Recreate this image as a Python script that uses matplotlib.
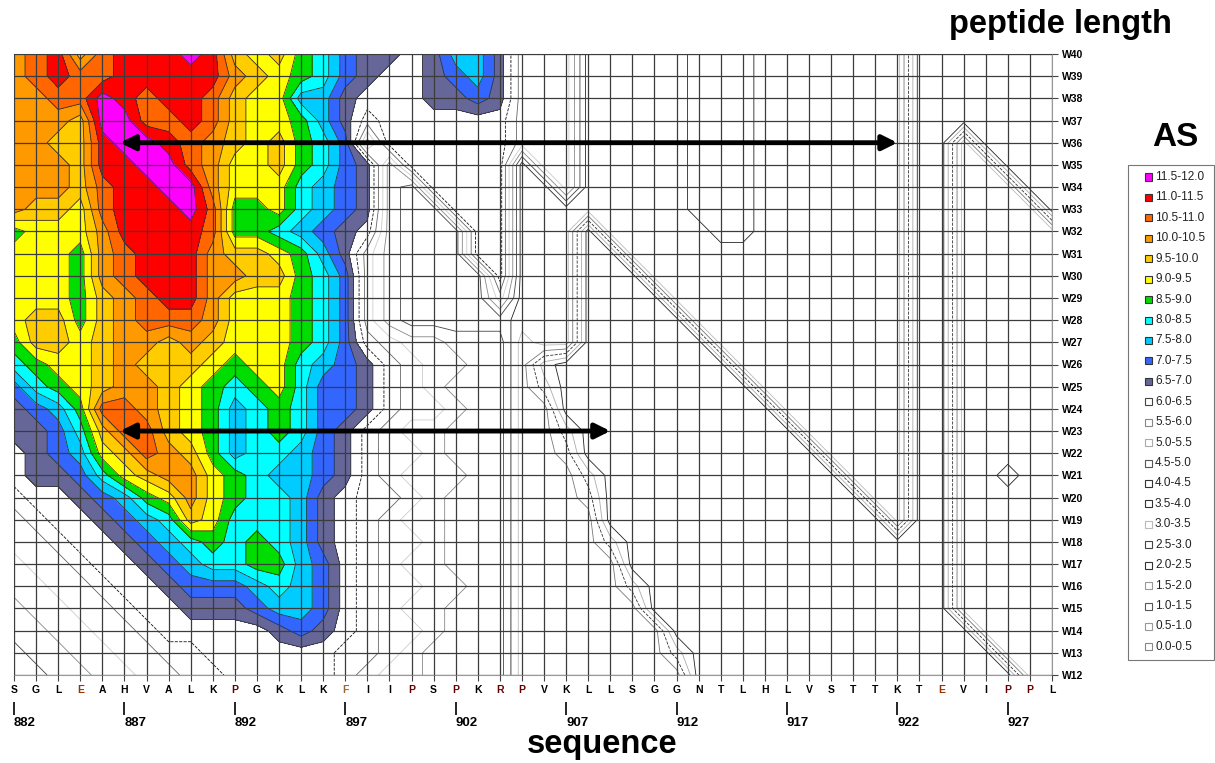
import numpy as np
import matplotlib.pyplot as plt
from matplotlib.patches import Rectangle

residues = list("SGLEAHVALKPGKLKFIIPSPKRPVKLLSGGNTLHLVSTTKTEVIPPL")
positions = np.arange(882, 930)
number_ticks = [882, 887, 892, 897, 902, 907, 912, 917, 922, 927]
windows = np.arange(40, 11, -1)  # rows below go W40 (top) ... W12 (bottom)

# One band code per residue (base 36 code -> band of 0.5,
# value = code/2 + 0.25, e.g. 'd' = 6.5-7.0, 'i' = 9.0-9.5, 'n' = 11.5-12.0)
as_rows = [
    "klmjlmmmnmjijhge" + "ddcdffd" + "aaa" + "66666" + "777" + "6666666" + "11" + "11111",
    "klmllmmmmmkjihge" + "dccdefd" + "aaa" + "66666" + "777" + "6666666" + "11" + "11111",
    "kkllnmlmmljiiffd" + "cccdded" + "aaa" + "66666" + "777" + "6666666" + "11" + "11111",
    "kkkjnnllmljiihfd" + "bcccccc" + "aaa" + "66666" + "777" + "6666666" + "11" + "11111",
    "kkjjmnnmlkjijhge" + "8" + "cccccc" + "aaa" + "66666" + "777" + "6666666" + "11" + "6" + "1111",
    "kkkjmmnnlkiijhge" + "d8" + "ccccc" + "6" + "aa" + "66666" + "777" + "6666666" + "11" + "66" + "111",
    "kkkjlmmnnkiiigfe" + "d87" + "cccc" + "66" + "a" + "66666" + "777" + "6666666" + "11" + "666" + "11",
    "kjjilmmmnlhhigfe" + "d877" + "ccc" + "666" + "66666" + "777" + "6666666" + "11" + "6666" + "1",
    "hiiikmmmmlhhgfed" + "c8777" + "cc" + "666" + "1" + "66666" + "77" + "6666666" + "11" + "66666",
    "iiihklmmmkjjihfd" + "a8777" + "cc" + "666" + "11" + "666" + "666" + "6666666" + "11" + "66666",
    "iiihklmmmkkjjhge" + "a87777" + "c" + "666" + "111" + "666666666666" + "11" + "66666",
    "iiihjklmmkiiihge" + "a87777" + "a" + "666" + "1111" + "66666666666" + "11" + "66666",
    "ijjhjklllkiiihge" + "a877777" + "666" + "11111" + "6666666666" + "11" + "66666",
    "hjjijkkjkjiiihge" + "ba99888" + "566" + "111111" + "666666666" + "11" + "66666",
    "ghiijkjjjihiigfe" + "dba9988" + "521" + "1111111" + "66666666" + "11" + "66666",
    "eghijkkjihghigee" + "dba9888" + "53" + "111111111" + "6666666" + "11" + "66666",
    "defhllkjihfghgee" + "dbaa988" + "55" + "1111111111" + "666666" + "11" + "66666",
    "ddegjlljihfghged" + "ba99888" + "553" + "1111111111" + "66666" + "11" + "66666",
    "cdefijlkjhfggfed" + "baa9888" + "554" + "11111111111" + "6666" + "11" + "66666",
    "cddegijkkihgffed" + "ba99988" + "555" + "3" + "11111111111" + "666" + "11" + "66766",
    "bccdefhikihggfdc" + "bba9888" + "5554" + "111111111111" + "66" + "11" + "66666",
    "abccdefgjigggfdc" + "ba99888" + "5555" + "1111111111111" + "6" + "11" + "66666",
    "aabccdefghghgfdc" + "baa9888" + "55553" + "111111111111111" + "66666",
    "9aabccdefgghhfec" + "ba99888" + "55555" + "111111111111111" + "66666",
    "99aabccdeeefgfec" + "baa9988" + "555553" + "11111111111111" + "66666",
    "899aabccdddeffec" + "ba99888" + "555555" + "11111111111111" + "66666",
    "8899aabcccccdedc" + "baa9888" + "5555555" + "11111111111111" + "6666",
    "78899aabbccccccb" + "ba98888" + "55555553" + "11111111111111" + "666",
    "778899aabbcccccb" + "a998888" + "55555555" + "111111111111111" + "66",
]

levels = np.arange(0, 12.5, 0.5)
band_labels = ["%.1f-%.1f" % (lo, lo + 0.5) for lo in levels[:-1]]
band_colors = ["white"] * 13 + ["#666699", "#3366ff", "#00ccff", "#00ffff", "#00dd00",
                                "#ffff00", "#ffcc00", "#ff9900", "#ff6600", "#ff0000", "#ff00ff"]
white_edges = ["#888888", "#999999", "#555555", "#999999", "#333333", "#444444", "#bbbbbb",
               "#333333", "#333333", "#555555", "#aaaaaa", "#888888", "#444444"]
line_colors = ["#999999", "#222222", "#aaaaaa", "#333333", "#777777", "#bbbbbb", "#222222",
               "#444444", "#888888", "#cccccc", "#666666", "#111111", "#333333"] + ["#333333"] * 10
line_styles = ["solid", "solid", "solid", "dashed", "solid", "solid", "solid", "solid",
               "solid", "solid", "solid", "dashed", "solid"] + ["solid"] * 10

letter_colors = {"E": "#993300", "P": "#660000", "R": "#660000", "F": "#996633"}

arrow_y = [36, 23]
arrow_start = [886.8, 886.8]
arrow_end = [922.0, 909.0]

Z = np.array([[int(ch, 36) / 2 + 0.25 for ch in row] for row in as_rows])[::-1]
X, Y = np.meshgrid(positions, windows[::-1])

W, H = 1215, 763
fig = plt.figure(figsize=(W / 100, H / 100), dpi=100)
ax = fig.add_axes([14 / W, 1 - 675 / H, (1052 - 14) / W, (675 - 54) / H])

ax.contourf(X, Y, Z, levels=levels, colors=band_colors)
ax.contour(X, Y, Z, levels=levels[1:-1], colors=line_colors, linestyles=line_styles,
           linewidths=0.6)

ax.set_xlim(882, 929)
ax.set_ylim(12, 40)
ax.set_xticks(positions)
ax.set_xticklabels(residues, fontsize=7.5, fontweight="bold", family="Liberation Sans")
for lab, res in zip(ax.get_xticklabels(), residues):
    lab.set_color(letter_colors.get(res, "black"))
ax.set_yticks(windows)
ax.set_yticklabels(["W%d" % w for w in windows], fontsize=7.5, fontweight="bold",
                   family="Liberation Sans")
ax.yaxis.tick_right()
ax.tick_params(axis="both", length=4, width=0.8, color="#444444", pad=3)
ax.grid(True, color="#3c3c3c", lw=0.9)
ax.set_axisbelow(False)
for s in ax.spines.values():
    s.set_color("#999999")
    s.set_linewidth(0.8)

sec = ax.secondary_xaxis(-0.043)
sec.set_xticks(number_ticks)
sec.set_xticklabels([str(n) for n in number_ticks], fontsize=9.5, fontweight="bold",
                    family="Liberation Sans", ha="left")
sec.tick_params(length=9, width=1.2, pad=2)
sec.spines["bottom"].set_visible(False)

for y, x0, x1 in zip(arrow_y, arrow_start, arrow_end):
    ax.annotate("", xy=(x1, y), xytext=(x0, y),
                arrowprops=dict(arrowstyle="<|-|>", color="black", lw=3.5,
                                mutation_scale=22, shrinkA=0, shrinkB=0))

# legend box with one swatch per band, highest band on top
fig.patches.append(Rectangle((1128 / W, 1 - 660 / H), (1214 - 1128) / W, (660 - 165) / H,
                             transform=fig.transFigure, fill=False,
                             edgecolor="#777777", lw=0.8))
for i in range(len(band_labels)):
    band = len(band_labels) - 1 - i
    yc = 177 + 20.43 * i
    edge = white_edges[band] if band < 13 else "#333333"
    fig.patches.append(Rectangle((1145 / W, 1 - (yc + 3.5) / H), 7 / W, 7 / H,
                                 transform=fig.transFigure, facecolor=band_colors[band],
                                 edgecolor=edge, lw=0.8))
    fig.text(1155 / W, 1 - yc / H, band_labels[band], ha="left", va="center",
             fontsize=8.5, color="#222222", family="Liberation Sans")

fig.text(1060 / W, 1 - 25 / H, "peptide length", ha="center", va="center",
         fontsize=23.5, fontweight="bold", family="Liberation Sans")
fig.text(602 / W, 1 - 745 / H, "sequence", ha="center", va="center",
         fontsize=23.5, fontweight="bold", family="Liberation Sans")
fig.text(1175 / W, 1 - 137 / H, "AS", ha="center", va="center",
         fontsize=24, fontweight="bold", family="Liberation Sans")

fig.savefig("out.png", dpi=100)
